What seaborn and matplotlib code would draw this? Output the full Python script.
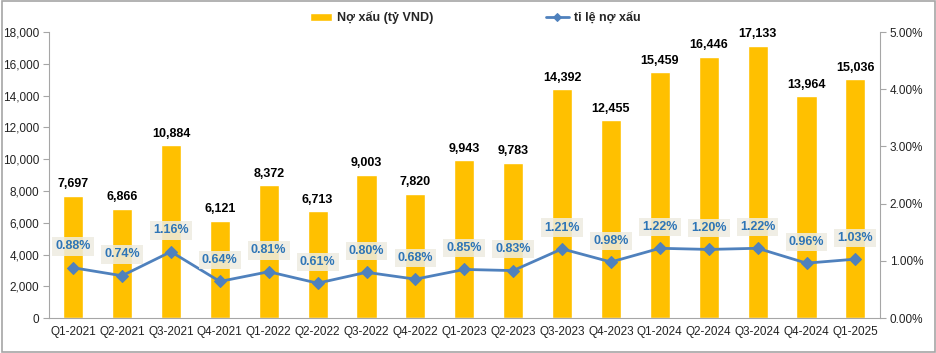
import matplotlib
matplotlib.use("Agg")
import matplotlib.pyplot as plt
import seaborn as sns
import pandas as pd
import numpy as np
from matplotlib.ticker import FuncFormatter, MultipleLocator

quarters = ["Q1-2021", "Q2-2021", "Q3-2021", "Q4-2021", "Q1-2022", "Q2-2022",
            "Q3-2022", "Q4-2022", "Q1-2023", "Q2-2023", "Q3-2023", "Q4-2023",
            "Q1-2024", "Q2-2024", "Q3-2024", "Q4-2024", "Q1-2025"]
no_xau = [7697, 6866, 10884, 6121, 8372, 6713, 9003, 7820, 9943, 9783,
          14392, 12455, 15459, 16446, 17133, 13964, 15036]
ti_le = [0.88, 0.74, 1.16, 0.64, 0.81, 0.61, 0.80, 0.68, 0.85, 0.83,
         1.21, 0.98, 1.22, 1.20, 1.22, 0.96, 1.03]

df = pd.DataFrame({"quy": quarters, "no_xau": no_xau, "ti_le": ti_le})

sns.set_style("white")
plt.rcParams["font.family"] = ["Liberation Sans", "DejaVu Sans"]

bar_color = "#FFC000"
line_color = "#4F81BD"
label_blue = "#2E75B6"

fig = plt.figure(figsize=(9.37, 3.53), dpi=100)
ax = fig.add_axes([0.052, 0.099, 0.887, 0.81])

sns.barplot(data=df, x="quy", y="no_xau", color=bar_color, width=0.41,
            ax=ax, label="Nợ xấu (tỷ VND)", saturation=1)
ax.set_ylim(0, 18000)
ax.yaxis.set_major_locator(MultipleLocator(2000))
ax.yaxis.set_major_formatter(FuncFormatter(lambda v, p: f"{int(v):,}"))
ax.set_xlim(-0.5, len(quarters) - 0.5)
ax.set_xlabel("")
ax.set_ylabel("")

for i, v in enumerate(no_xau):
    ax.text(i, v + 350, f"{v:,}", ha="center", va="bottom",
            fontsize=9, fontweight="bold", color="black")

ax2 = ax.twinx()
sns.lineplot(x=np.arange(len(quarters)), y=ti_le, ax=ax2, color=line_color,
             marker="D", markersize=6, linewidth=2, markeredgecolor=line_color,
             label="tỉ lệ nợ xấu", legend=False)
ax2.set_ylim(0, 5)
ax2.yaxis.set_major_locator(MultipleLocator(1))
ax2.yaxis.set_major_formatter(FuncFormatter(lambda v, p: f"{v:.2f}%"))

for i, v in enumerate(ti_le):
    ax2.annotate(f"{v:.2f}%", (i, v), xytext=(0, 11), textcoords="offset points",
                 ha="center", va="bottom", fontsize=9, fontweight="bold",
                 color=label_blue,
                 bbox=dict(boxstyle="square,pad=0.25", fc="#EEECE1", ec="none",
                           alpha=0.85))

# axes styling
for a in (ax, ax2):
    a.spines["top"].set_visible(False)
    a.tick_params(labelsize=8.5, colors="#222222", length=4, width=0.8)
ax.spines["right"].set_visible(False)
ax2.spines["left"].set_visible(False)
for a, side in ((ax, "left"), (ax2, "right"), (ax, "bottom")):
    a.spines[side].set_color("#A6A6A6")
for a in (ax, ax2):
    a.tick_params(axis="y", color="#A6A6A6", pad=3)
ax2.spines["bottom"].set_visible(False)

# x ticks between categories
ax.set_xticks(np.arange(len(quarters)))
ax.set_xticklabels(quarters)
ax.tick_params(axis="x", length=0, pad=6)
ax.set_xticks(np.arange(-0.5, len(quarters)), minor=True)
ax.tick_params(axis="x", which="minor", length=4, color="#A6A6A6")

h1, l1 = ax.get_legend_handles_labels()
h2, l2 = ax2.get_legend_handles_labels()
if ax.get_legend():
    ax.get_legend().remove()
fig.legend(h1 + h2, l1 + l2, loc="upper center", bbox_to_anchor=(0.507, 1.0),
           ncol=2, frameon=False, columnspacing=9.0, handlelength=1.8,
           handletextpad=0.4, markerscale=0.7,
           prop={"weight": "bold", "size": 9})

# outer border
fig.patches.append(plt.Rectangle((0.002, 0.004), 0.996, 0.992, transform=fig.transFigure,
                                 fill=False, ec="#A6A6A6", lw=1.2))

fig.savefig("out.png", dpi=100)
